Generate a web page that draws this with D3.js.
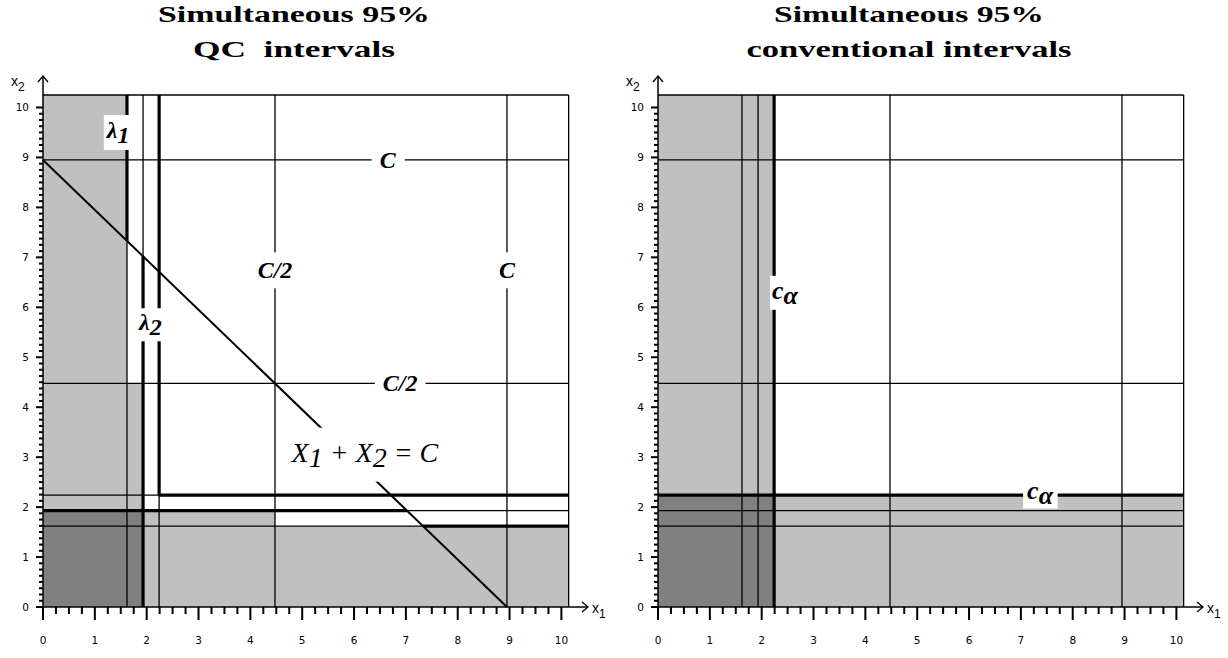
<!DOCTYPE html>
<html>
<head>
<meta charset="utf-8">
<script src="https://cdn.jsdelivr.net/npm/d3@7"></script>
<style>
body { margin: 0; background: #fff; }
</style>
</head>
<body>
<main></main>
<script>
// chart values
const C = 8.95;
const lambda1 = 1.62, lambda2 = 1.93, cAlpha = 2.24;
const xTicks = d3.range(0, 11);
const yTicks = d3.range(0, 11);
const xMinor = d3.range(0, 10.01, 0.25);
const yMinor = d3.range(0, 10.01, 0.125);
const titles = [
    ["Simultaneous 95%", "QC  intervals"],
    ["Simultaneous 95%", "conventional intervals"]
];

const width = 1228, height = 658;
const svg = d3.select('main').append('svg')
    .attr('width', width)
    .attr('height', height);

const light = '#c0c0c0', dark = '#808080';
const unitX = 51.84;
const xMax = 10.14, yMax = 10.25;
const y0 = 607;

function makePanel(ox, titleLines, titleWidths, conventional) {
    const g = svg.append('g');
    const x = d3.scaleLinear().domain([0, xMax]).range([ox, ox + unitX * xMax]);
    const y = d3.scaleLinear().domain([0, yMax]).range([y0, 95]);

    const rect = (x1, x2, y1, y2, fill) => g.append('rect')
        .attr('x', x(x1)).attr('y', y(y2))
        .attr('width', x(x2) - x(x1)).attr('height', y(y1) - y(y2))
        .attr('fill', fill);

    // shaded rejection regions
    if (conventional) {
        rect(0, cAlpha, 0, yMax, light);
        rect(0, xMax, 0, cAlpha, light);
        rect(0, cAlpha, 0, cAlpha, dark);
    } else {
        rect(0, lambda1, C / 2, yMax, light);
        rect(0, lambda2, 0, C / 2, light);
        rect(0, C / 2, 0, lambda2, light);
        rect(C / 2, xMax, 0, lambda1, light);
        rect(0, lambda2, 0, lambda2, dark);
    }

    const seg = (x1, y1, x2, y2, w) => g.append('line')
        .attr('x1', x(x1)).attr('y1', y(y1))
        .attr('x2', x(x2)).attr('y2', y(y2))
        .attr('stroke', '#000').attr('stroke-width', w);

    // thin full-length lines
    [lambda1, lambda2, cAlpha, C / 2, C].forEach(v => {
        seg(v, 0, v, yMax, 1.3);
        seg(0, v, xMax, v, 1.3);
    });
    // frame
    seg(0, yMax, xMax, yMax, 1.3);
    seg(xMax, 0, xMax, yMax, 1.3);

    // thick boundaries
    if (conventional) {
        seg(cAlpha, 0, cAlpha, yMax, 3.2);
        seg(0, cAlpha, xMax, cAlpha, 3.2);
    } else {
        seg(lambda1, C - lambda1, lambda1, yMax, 3.2);
        seg(lambda2, 0, lambda2, C - lambda2, 3.2);
        seg(0, lambda2, C - lambda2, lambda2, 3.2);
        seg(C - lambda1, lambda1, xMax, lambda1, 3.2);
        seg(cAlpha, cAlpha, cAlpha, yMax, 3.2);
        seg(cAlpha, cAlpha, xMax, cAlpha, 3.2);
        seg(0, C, C, 0, 2);
    }

    // tick marks, drawn as small filled bars
    const tickG = g.append('g').attr('fill', '#000');
    tickG.selectAll('rect.xt').data(xMinor).join('rect')
        .attr('class', 'xt')
        .attr('x', d => x(d) - 1).attr('y', y0)
        .attr('width', 2)
        .attr('height', d => Number.isInteger(d) ? 13 : 7);
    tickG.selectAll('rect.yt').data(yMinor).join('rect')
        .attr('class', 'yt')
        .attr('y', d => y(d) - 1).attr('height', 2)
        .attr('x', d => ox - (Number.isInteger(d) ? 7 : 4))
        .attr('width', d => Number.isInteger(d) ? 7 : 4);

    const tickFont = 'DejaVu Sans, sans-serif';
    g.selectAll('.xlab').data(xTicks).join('text')
        .attr('class', 'xlab')
        .attr('x', d => x(d)).attr('y', 644)
        .attr('text-anchor', 'middle')
        .attr('font-family', tickFont).attr('font-size', 10.5)
        .text(d3.format('d'));
    g.selectAll('.ylab').data(yTicks).join('text')
        .attr('class', 'ylab')
        .attr('x', ox - 14).attr('y', d => y(d) + 4)
        .attr('text-anchor', 'end')
        .attr('font-family', tickFont).attr('font-size', 10.5)
        .text(d3.format('d'));

    // axis lines with arrows
    g.append('line').attr('x1', ox).attr('y1', y0).attr('x2', ox + 545).attr('y2', y0)
        .attr('stroke', '#000').attr('stroke-width', 1.5);
    g.append('path').attr('d', `M${ox + 539},602 L${ox + 545},607 L${ox + 539},612`)
        .attr('fill', 'none').attr('stroke', '#000').attr('stroke-width', 1.3);
    g.append('line').attr('x1', ox).attr('y1', y0).attr('x2', ox).attr('y2', 76)
        .attr('stroke', '#000').attr('stroke-width', 1.5);
    g.append('path').attr('d', `M${ox - 5},82 L${ox},76 L${ox + 5},82`)
        .attr('fill', 'none').attr('stroke', '#000').attr('stroke-width', 1.3);

    const axisLabel = (px, py, base, sub) => {
        const t = g.append('text').attr('x', px).attr('y', py)
            .attr('font-family', 'Liberation Sans, Arial, sans-serif')
            .attr('font-size', 14);
        t.append('tspan').text(base);
        t.append('tspan').attr('dy', 5).attr('font-size', 12).text(sub);
    };
    axisLabel(ox + 549, 613, 'x', '1');
    axisLabel(ox - 32, 86, 'x', '2');

    // titles, stretched to the wide bitmap lettering of the original
    const cx = ox + 251;
    titleLines.forEach((line, i) => {
        g.append('text').attr('x', cx).attr('y', 22 + i * 35)
            .attr('text-anchor', 'middle')
            .attr('font-family', 'Liberation Serif, Times New Roman, serif')
            .attr('font-weight', 'bold').attr('font-size', 23)
            .attr('textLength', titleWidths[i])
            .attr('lengthAdjust', 'spacingAndGlyphs')
            .style('white-space', 'pre')
            .text(line);
    });

    return { g, x, y };
}

// italic labels on white patches that cut the lines under them
function label(p, dx, dy, parts, opts = {}) {
    const size = opts.size || 24, weight = opts.weight || 'bold';
    const padX = opts.padX == null ? 2 : opts.padX;
    const padY = opts.padY == null ? 6 : opts.padY;
    const t = p.g.append('text')
        .attr('x', p.x(dx)).attr('y', p.y(dy))
        .attr('text-anchor', 'middle')
        .attr('dominant-baseline', 'central')
        .attr('font-family', 'Liberation Serif, Times New Roman, serif')
        .attr('font-style', 'italic').attr('font-weight', weight)
        .attr('font-size', size)
        .style('white-space', 'pre');
    let shift = 0;
    parts.forEach(([s, sub]) => {
        const want = sub ? 5 : 0;
        t.append('tspan').attr('dy', want - shift).text(s);
        shift = want;
    });
    const bb = t.node().getBBox();
    p.g.insert('rect', function() { return t.node(); })
        .attr('x', bb.x - padX).attr('y', bb.y + 3 - padY)
        .attr('width', bb.width + 2 * padX).attr('height', bb.height - 6 + 2 * padY)
        .attr('fill', '#fff');
}

const left = makePanel(43, titles[0], [272, 202], false);
const right = makePanel(658, titles[1], [270, 325], true);

label(left, 1.45, 9.55, [['λ', false], ['1', true]], { padY: 5 });
label(left, 2.07, 5.7, [['λ', false], ['2', true]], { padY: 4 });
label(left, 6.65, C, [['C', false]], { padX: 8 });
label(left, C / 2, 6.74, [['C/2', false]], { padY: 8 });
label(left, C, 6.74, [['C', false]], { padY: 8 });
label(left, 6.89, C / 2, [['C/2', false]], { padX: 8 });
label(left, 6.21, 3.1, [['X', false], ['1', true], [' + X', false], ['2', true], [' = C', false]],
    { size: 28, weight: 'normal', padX: 4, padY: 12 });

label(right, 2.45, 6.34, [['c', false], ['α', true]], { size: 26, padY: 3 });
label(right, 7.37, 2.34, [['c', false], ['α', true]], { size: 26, padX: 4, padY: 2 });
</script>
</body>
</html>
